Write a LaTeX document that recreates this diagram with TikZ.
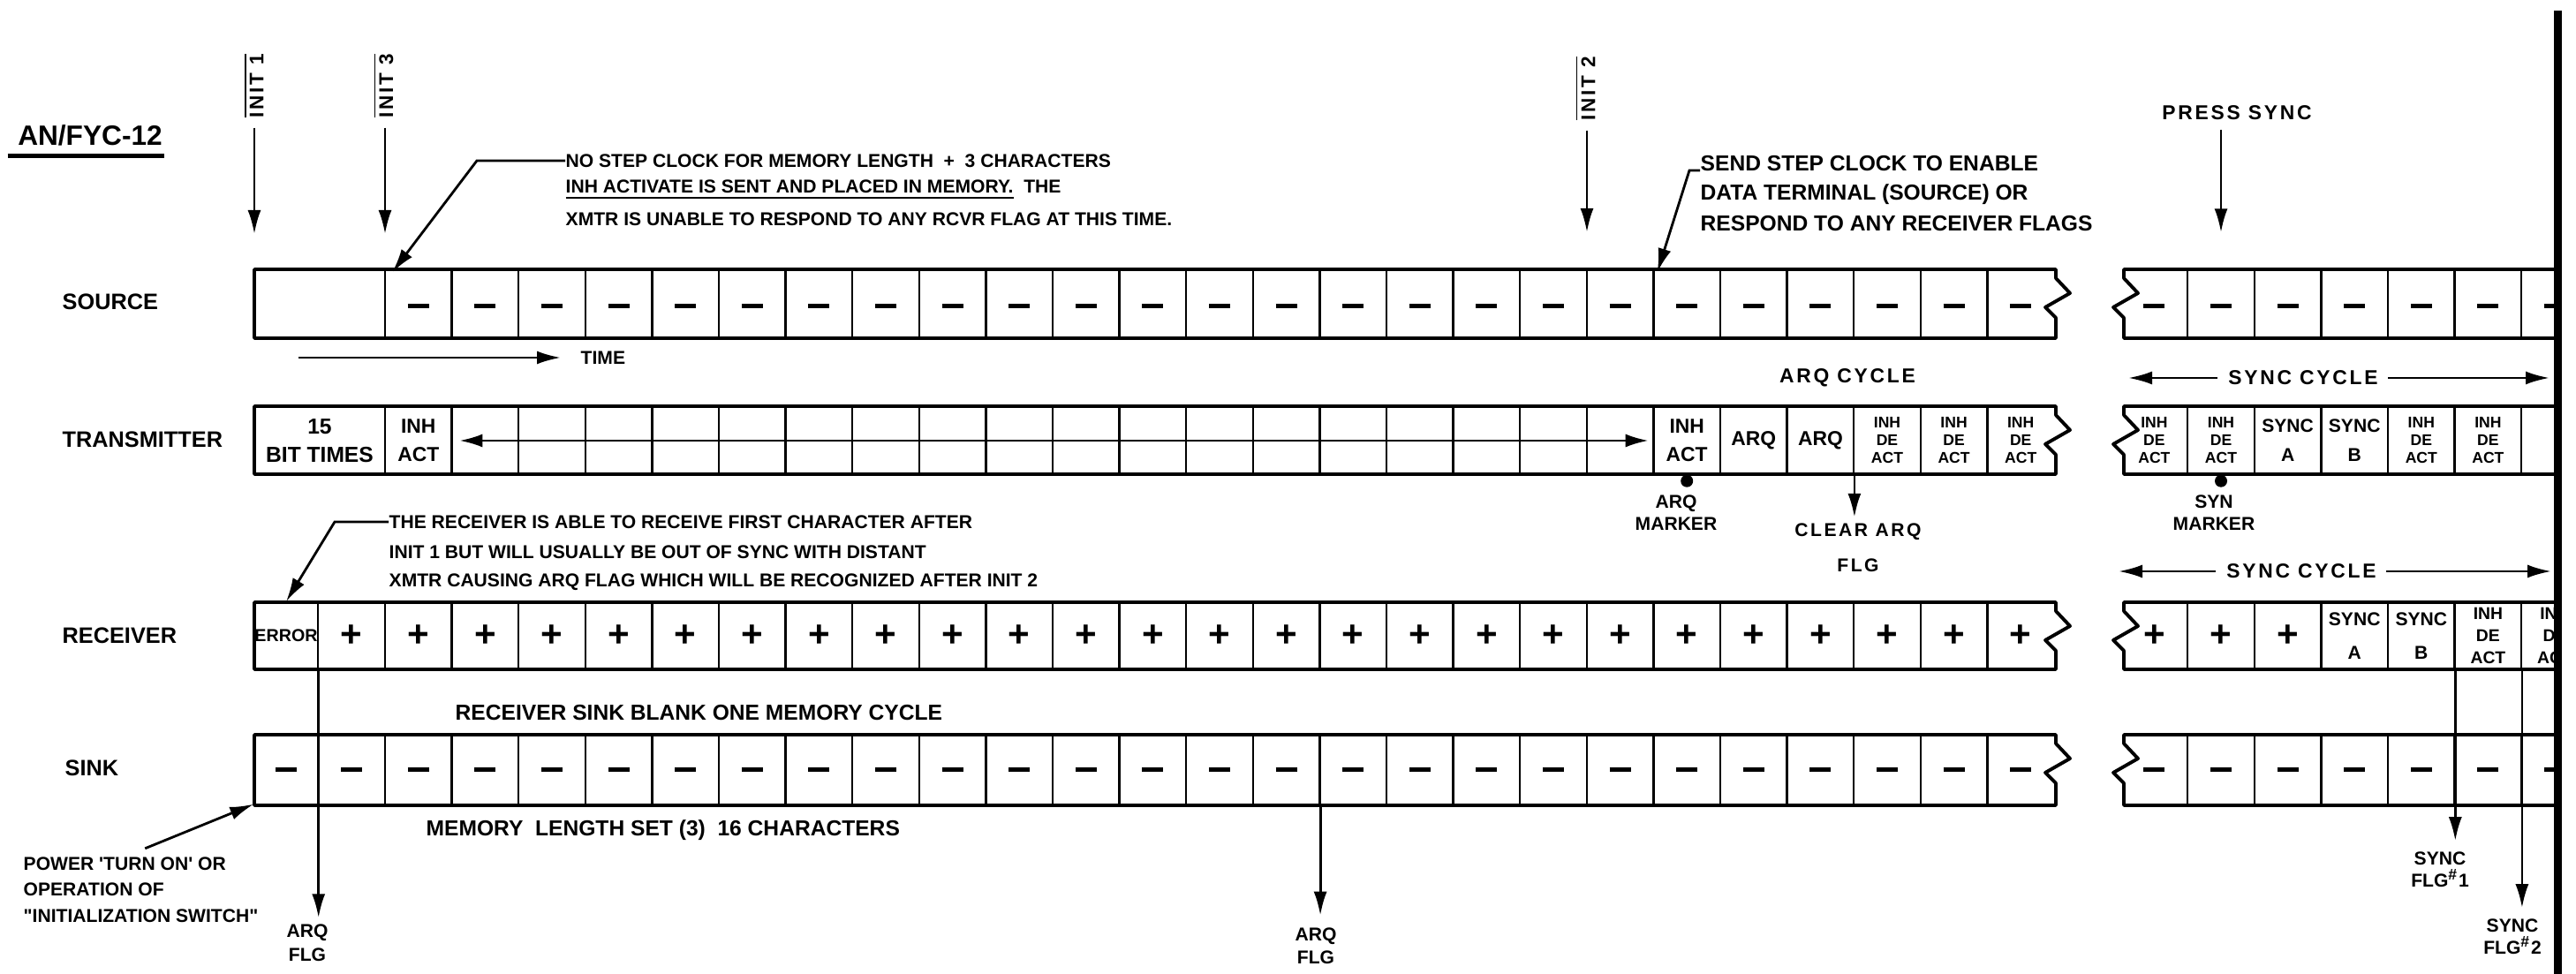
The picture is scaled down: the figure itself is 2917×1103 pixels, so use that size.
\documentclass[tikz,border=0pt]{standalone}
\usepackage{fontspec}
\setmainfont{Liberation Sans}
\newfontfamily\spacedfont{Liberation Sans}[LetterSpace=12]
\usepackage{tikz}
\usetikzlibrary{arrows.meta,positioning,calc}
\newcommand{\dashbar}{\rule{2.4mm}{0.5mm}}

\begin{document}
\begin{tikzpicture}[x=0.1mm,y=-0.1mm,
  stripedge/.style={line width=1.1pt,line join=round},
  celldiv/.style={line width=0.7pt},
  arr/.style={-{Latex[length=2.7mm,width=1.5mm]},line width=0.8pt},
  dblarr/.style={{Latex[length=2.6mm,width=1.5mm]}-{Latex[length=2.6mm,width=1.5mm]},line width=0.8pt},
  rowlabel/.style={anchor=west,inner sep=0pt,font=\bfseries\fontsize{7.2}{8}\selectfont},
  note/.style={anchor=west,inner sep=0pt,font=\bfseries\fontsize{6}{7}\selectfont},
  bignote/.style={note,font=\bfseries\fontsize{7}{8}\selectfont},
  initlbl/.style={rotate=90,inner sep=0pt,font=\spacedfont\bfseries\fontsize{6.4}{7}\selectfont},
  tag/.style={align=center,inner sep=0pt,font=\bfseries\fontsize{6}{7.2}\selectfont},
  spacedtag/.style={align=center,inner sep=0pt,font=\spacedfont\bfseries\fontsize{6.5}{8}\selectfont},
  cellbox/.style={minimum width=7.56mm,minimum height=7.6mm,inner sep=0pt,align=center,
    font=\bfseries\fontsize{6.5}{9}\selectfont},
  tinycell/.style={cellbox,font=\bfseries\fontsize{5}{5.7}\selectfont},
  synccell/.style={cellbox,font=\bfseries\fontsize{6}{9.4}\selectfont},
  pluscell/.style={cellbox,font=\bfseries\fontsize{12}{12}\selectfont}]
  \useasboundingbox (0,0) rectangle (2917,1103);
  % Title and row names.
  \node[inner sep=0pt,font=\bfseries\fontsize{9}{10}\selectfont] (title) at (102,153) {AN/FYC-12};
  \draw[line width=1.2pt] ([xshift=-1.1mm,yshift=-1.1mm]title.south west)
        -- ([xshift=0.2mm,yshift=-1.1mm]title.south east);
  \node[rowlabel] (srclbl) at (70,342) {SOURCE};
  \node[rowlabel] (xmtlbl) at (70,498) {TRANSMITTER};
  \node[rowlabel] (rcvlbl) at (70,720) {RECEIVER};
  \node[rowlabel] (snklbl) at (73,870) {SINK};
  % Initialisation pulses.
  \node[initlbl] (init1) at (287,97) {$\overline{\hbox{INIT 1}}$};
  \node[initlbl] (init3) at (434,97) {$\overline{\hbox{INIT 3}}$};
  \node[initlbl] (init2) at (1795,100) {$\overline{\hbox{INIT 2}}$};
  \coordinate (init1tip) at (288,265);
  \coordinate (init3tip) at (436,265);
  \coordinate (init2tip) at (1797,263);
  \draw[arr,shorten <=1.1mm] (init1.west -| init1tip) -- (init1tip);
  \draw[arr,shorten <=1.1mm] (init3.west -| init3tip) -- (init3tip);
  \draw[arr,shorten <=1.1mm] (init2.west -| init2tip) -- (init2tip);
  % Strips, left part and right part.
  \foreach \ya/\yb in {305/383,460/537,682/758,832/912}{
    \draw[stripedge] (2328,\ya) -- (288,\ya) -- (288,\yb) -- (2328,\yb)
      -- (2328,{\ya+55}) -- (2316,{\ya+43}) -- (2344,{\ya+27}) -- (2328,{\ya+10}) -- cycle;
    \draw[stripedge] (2892,\ya) -- (2405,\ya) -- (2405,{\ya+10}) -- (2421,{\ya+27})
      -- (2393,{\ya+43}) -- (2405,{\ya+55}) -- (2405,\yb) -- (2892,\yb);
    \foreach \k in {0,...,24}
      \draw[celldiv] ({436+75.6*\k},\ya) -- ({436+75.6*\k},\yb);
    \foreach \k in {27,...,32}
      \draw[celldiv] ({436+75.6*\k},\ya) -- ({436+75.6*\k},\yb);
  }
  \draw[celldiv] (360,682) -- (360,758) (360,832) -- (360,912);
  % Source.
  \foreach \k in {0,...,24}
    \node[cellbox] (src\k) at ({436+75.6*(\k+0.5)},347) {\dashbar};
  % Transmitter.
  \node[cellbox,minimum width=14.8mm,font=\bfseries\fontsize{7}{9}\selectfont]
       (xmtbits) at (362,499) {15\\BIT TIMES};
  \node[cellbox] (xmt0) at ({436+75.6*0.5},499) {INH\\ACT};
  \foreach \k/\txt in {19/{INH\\ACT},20/ARQ,21/ARQ}
    \node[cellbox] (xmt\k) at ({436+75.6*(\k+0.5)},499) {\txt};
  \foreach \k in {22,23,24}
    \node[tinycell] (xmt\k) at ({436+75.6*(\k+0.5)},499) {INH\\DE\\ACT};
  \draw[dblarr] ([xshift=0.8mm]xmt0.east) -- ([xshift=-0.5mm]xmt19.west);
  % Receiver.
  \node[cellbox,minimum width=7.2mm,font=\bfseries\fontsize{5.6}{6}\selectfont]
       (rcverr) at (324,720) {ERROR};
  \node[pluscell] (rcvfirst) at (398,720) {+};
  \foreach \k in {0,...,24}
    \node[pluscell] (rcv\k) at ({436+75.6*(\k+0.5)},720) {+};
  % Sink.
  \node[cellbox,minimum width=7.2mm] (snka) at (324,872) {\dashbar};
  \node[cellbox] (snkb) at (398,872) {\dashbar};
  \foreach \k in {0,...,24}
    \node[cellbox] (snk\k) at ({436+75.6*(\k+0.5)},872) {\dashbar};
  % Right part, cut at the sheet edge.
  \begin{scope}
    \clip (2300,0) rectangle (2892,1103);
    \foreach \k in {26,...,32}
      \node[cellbox] (src\k) at ({436+75.6*(\k+0.5)},347) {\dashbar};
    \foreach \k in {26,27,30,31}
      \node[tinycell] (xmt\k) at ({436+75.6*(\k+0.5)},499) {INH\\DE\\ACT};
    \node[synccell] (xmt28) at ({436+75.6*28.5},499) {SYNC\\A};
    \node[synccell] (xmt29) at ({436+75.6*29.5},499) {SYNC\\B};
    \foreach \k in {26,27,28}
      \node[pluscell] (rcv\k) at ({436+75.6*(\k+0.5)},720) {+};
    \node[synccell,font=\bfseries\fontsize{6}{10.8}\selectfont] (rcv29) at ({436+75.6*29.5},720) {SYNC\\A};
    \node[synccell,font=\bfseries\fontsize{6}{10.8}\selectfont] (rcv30) at ({436+75.6*30.5},720) {SYNC\\B};
    \foreach \k in {31,32}
      \node[tinycell,font=\bfseries\fontsize{5.5}{7}\selectfont] (rcv\k) at ({436+75.6*(\k+0.5)},720) {INH\\DE\\ACT};
    \foreach \k in {26,...,32}
      \node[cellbox] (snk\k) at ({436+75.6*(\k+0.5)},872) {\dashbar};
  \end{scope}
  % Markers under the transmitter.
  \fill ([yshift=-0.7mm]xmt19.south) circle (0.7mm);
  \node[tag] (arqmark) at (1898,581) {ARQ\\MARKER};
  \fill ([yshift=-0.7mm]xmt27.south) circle (0.7mm);
  \node[tag] (synmark) at (2507,581) {SYN\\MARKER};
  \node[spacedtag,font=\spacedfont\bfseries\fontsize{6}{11.4}\selectfont] (clrarq) at (2104,620) {CLEAR ARQ\\FLG};
  \draw[arr,shorten >=0.6mm] (xmt21.south east) -- (xmt21.south east |- clrarq.north);
  % Cycles.
  \node[spacedtag] (arqcyc) at (2092,428) {ARQ CYCLE};
  \node[spacedtag] (synccyc1) at (2608,428) {SYNC CYCLE};
  \node[spacedtag] (synccyc2) at (2606,647) {SYNC CYCLE};
  \coordinate (sc1l) at (2410,428);
  \coordinate (sc1r) at (2887,428);
  \coordinate (sc2l) at (2399,647);
  \coordinate (sc2r) at (2889,647);
  \draw[arr,shorten <=1.2mm] (synccyc1.west) -- (sc1l);
  \draw[arr,shorten <=1.1mm] (synccyc1.east) -- (sc1r);
  \draw[arr,shorten <=1.2mm] (synccyc2.west) -- (sc2l);
  \draw[arr,shorten <=1.1mm] (synccyc2.east) -- (sc2r);
  % Press sync.
  \node[spacedtag] (psync) at (2533,128) {PRESS SYNC};
  \draw[arr,shorten <=1mm,shorten >=4.5mm] (psync.south -| src27.north) -- (src27.north);
  % Time arrow.
  \node[note] (time) at (657,405) {TIME};
  \coordinate (timestart) at (338,405);
  \draw[arr,shorten >=2.2mm] (timestart) -- (time.west);
  % Notes with leaders.
  \node[note] (nsc1) at (640,182) {NO STEP CLOCK FOR MEMORY LENGTH \ +\ \ 3 CHARACTERS};
  \node[note] (nsc2) at (640,215) {\underline{INH ACTIVATE IS SENT AND PLACED IN MEMORY.}\ \ THE};
  \node[note] (nsc3) at (640,248) {XMTR IS UNABLE TO RESPOND TO ANY RCVR FLAG AT THIS TIME.};
  \draw[arr] (nsc1.west) -- ++(-100,0) -- ([xshift=0.9mm]src0.north west);
  \node[bignote] (send1) at (1925,185) {SEND STEP CLOCK TO ENABLE};
  \node[bignote] (send2) at (1925,220) {DATA TERMINAL (SOURCE) OR};
  \node[bignote] (send3) at (1925,253) {RESPOND TO ANY RECEIVER FLAGS};
  \draw[arr] ([yshift=-0.8mm]send1.west) -- ++(-12,0) -- ([xshift=0.5mm]src19.north west);
  \node[note] (rn1) at (440,591) {THE RECEIVER IS ABLE TO RECEIVE FIRST CHARACTER AFTER};
  \node[note] (rn2) at (440,625) {INIT 1 BUT WILL USUALLY BE OUT OF SYNC WITH DISTANT};
  \node[note] (rn3) at (440,659) {XMTR CAUSING ARQ FLAG WHICH WILL BE RECOGNIZED AFTER INIT 2};
  \draw[arr] (rn1.west) -- ++(-61,0) -- (rcverr.north);
  \node[bignote] (blank) at (515,807) {RECEIVER SINK BLANK ONE MEMORY CYCLE};
  \node[bignote] (memlen) at (482,940) {MEMORY \ LENGTH SET (3) \ 16 CHARACTERS};
  \node[note] (pwr1) at (26,978) {POWER \textquotesingle TURN ON\textquotesingle\ OR};
  \node[note] (pwr2) at (26,1007) {OPERATION OF};
  \node[note] (pwr3) at (26,1037) {\textquotedbl INITIALIZATION SWITCH\textquotedbl};
  \draw[arr] ([xshift=2.3mm,yshift=0.9mm]pwr1.north) -- (snka.south west);
  % Flags.
  \node[tag,font=\bfseries\fontsize{6}{7.7}\selectfont] (arqflg1) at (348,1068) {ARQ\\FLG};
  \draw[arr,shorten >=0.7mm] (rcverr.south east) -- (rcverr.south east |- arqflg1.north);
  \node[tag,font=\bfseries\fontsize{6}{7.5}\selectfont] (arqflg2) at (1490,1071) {ARQ\\FLG};
  \draw[arr,shorten >=1.3mm] (snk13.south east) -- (snk13.south east |- arqflg2.north);
  \node[tag] (syncflg1) at (2763,985) {SYNC\\FLG\textsuperscript{\#}1};
  \draw[arr,shorten >=1.2mm] (rcv30.south east) -- (rcv30.south east |- syncflg1.north);
  \node[tag] (syncflg2) at (2845,1061) {SYNC\\FLG\textsuperscript{\#}2};
  \draw[arr,shorten >=1.2mm] (rcv31.south east) -- (rcv31.south east |- syncflg2.north);
  % Sheet edge.
  \draw[line width=0.9mm] (2896,12) -- (2896,1103);
\end{tikzpicture}
\end{document}
